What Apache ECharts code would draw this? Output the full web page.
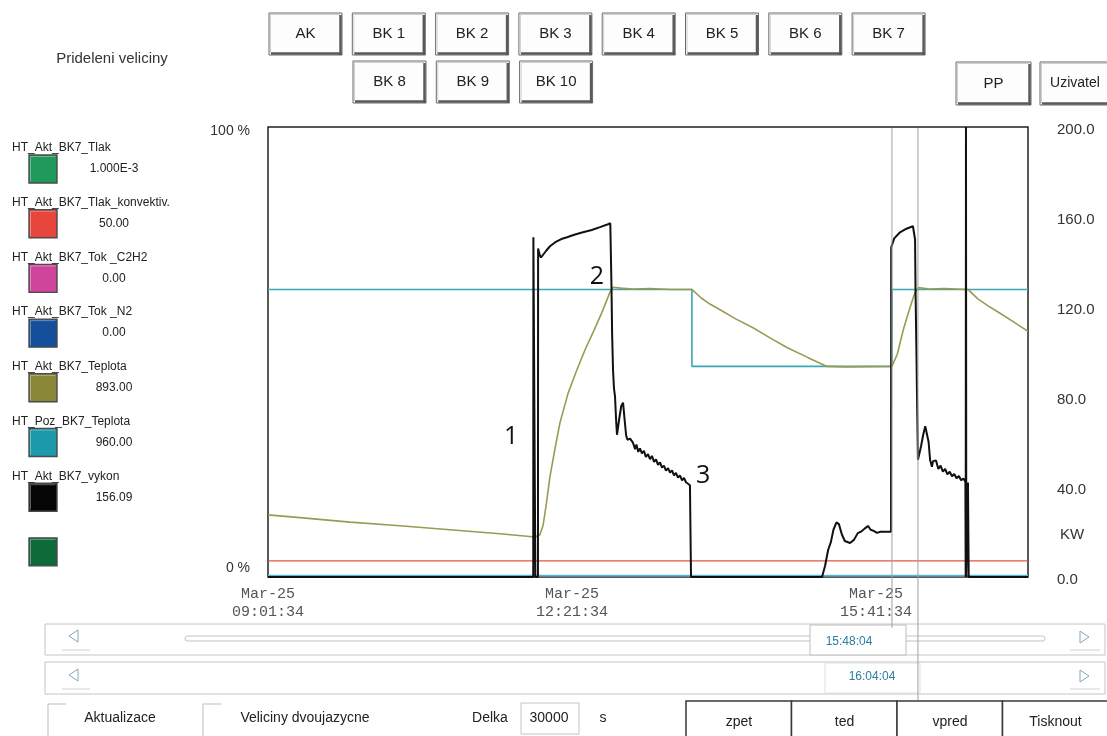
<!DOCTYPE html>
<html>
<head>
<meta charset="utf-8">
<script src="https://cdn.jsdelivr.net/npm/echarts@6/dist/echarts.min.js"></script>
<style>
html,body{margin:0;padding:0;background:#fff}
#chart{width:1107px;height:736px}
</style>
</head>
<body>
<div id="chart"></div>
<script>
// ---- time axis: minutes after 09:01:34, window length 30000 s (500 min) ----
const tickMinutes = [0, 200, 400];
const tickDates = ['Mar-25', 'Mar-25', 'Mar-25'];
const tickTimes = ['09:01:34', '12:21:34', '15:41:34'];
const kwTicks = [0, 40, 80, 120, 160, 200];
const cursorMinutes = [410.5, 427.6];

// ---- recorded values, [minute, value] ----
// HT_Akt_BK7_vykon, kW (right axis)
const vykonKW = [
  [0,0],[174.5,0],[174.6,151],[175.8,151],[175.9,0],[177.6,0],[177.7,146],[178.8,143],[179.6,142],
  [180.9,142.1],[183,145],[185.5,147],[189,148.8],[193,150.2],[196.7,151],[202,152.2],[207.2,153.2],
  [213,154.2],[218.4,155.5],[223.7,156.8],[225.2,157.2],[225.7,156.4],[226.0,128],[226.4,108],
  [227.0,92],[227.6,84],[228.3,80.2],[229.0,70],[229.6,63.2],[231.0,70],[232.4,76],[233.6,77.5],
  [234.6,70],[235.6,63],[236.5,61],[238.2,61.5],[240.1,59.7],[241.5,56.8],[242.4,58.9],[243.6,55.6],
  [244.7,57.2],[246,54.9],[247.3,56.1],[248.6,53.4],[250,54.6],[251.3,52.4],[252.6,53.8],[254,51.2],
  [255.3,52.3],[256.6,49.8],[257.9,50.9],[259.2,48.6],[260.5,49.5],[261.8,47.3],[263.2,48.4],
  [264.5,46.4],[265.8,47.4],[267.1,45.2],[268.4,46.3],[269.7,44.2],[271.1,45.1],[272.4,43.0],
  [273.7,44.0],[275,42.1],[276.3,42.9],[277.6,40.8],[278.2,41.5],[278.3,0],
  [364.5,0],[366.5,5],[368.5,12],[370.3,15.5],[372,21],[374,24.3],[375.6,23.5],[377.5,19],[379.5,16],
  [382.9,15.1],[385.5,16.5],[388,19.5],[390.5,20.3],[392.5,21.5],[394.7,22.7],[396.5,21],[398.5,20.5],
  [400.7,19.6],[403,20.1],[409.9,20.1],[410.0,146.5],[412,150.5],[415.8,153.2],[420,154.8],
  [424.3,155.9],[425.4,156.5],[425.7,150],[426.0,128],[426.6,100],[427.2,70],[427.6,52.1],[429.6,58],
  [431.0,63],[432.4,67],[433.6,66.8],[434.6,60],[435.6,52],[436.8,49],[437.5,51.5],[439.5,51.8],
  [441,48],[442.5,49.5],[444,46.8],[445.5,48],[447,45.6],[448.5,46.8],[450,44.8],[451.5,45.8],
  [453,43.9],[454.5,44.9],[456,43.0],[457.5,43.8],[458.8,42.3],[459.0,0],[459.2,200],[459.4,0],
  [460.4,0],[460.5,42],[460.9,42],[461.0,0],[500,0]
];
// HT_Akt_BK7_Teplota, % of range
const teplotaAkt = [
  [0,13.8],[21,13.2],[54,12.2],[86.8,11.4],[119.7,10.5],[152.6,9.6],[175.7,8.9],[178.9,9.4],
  [181,11.5],[183,16],[185.5,22.3],[188.8,28.5],[192.1,34.3],[197.4,40.8],[203.3,46.1],[208.6,50.5],
  [213.8,54.3],[219.7,58.8],[225,63.3],[227,64.4],[232,64.2],[240,64.0],[251.3,64.1],[265,63.9],
  [278.9,63.9],[285,62.0],[291,60.6],[297.4,59.4],[308,57.3],[319.1,55.4],[330,53.2],[341.4,51.0],
  [355,48.8],[367.8,46.8],[380,46.7],[410.5,46.8],[414,49.5],[418,55],[422,59.5],[425.7,63.3],
  [428,64.3],[435,64.0],[445,64.1],[460.5,63.9],[467,61.8],[474,60.2],[481.6,58.6],[490,56.8],
  [500,54.6]
];
// HT_Poz_BK7_Teplota (setpoint), % of range
const teplotaPoz = [[0,63.9],[278.9,63.9],[278.9,46.8],[410.5,46.8],[410.5,63.9],[500,63.9]];
// HT_Akt_BK7_Tlak_konvektiv., % of range
const tlakKonv = [[0,3.6],[500,3.6]];
// HT_Akt_BK7_Tok _N2, % of range
const tokN2 = [[0,0.3],[500,0.3]];

// numbered notes on the power trace, [minute, kW]
const noteLabels = ['1', '2', '3'];
const notePoints = [[159.9, 62.4], [216.4, 133.2], [286.2, 45]];

// ---- side panel ----
const legendNames = ['HT_Akt_BK7_Tlak','HT_Akt_BK7_Tlak_konvektiv.','HT_Akt_BK7_Tok _C2H2','HT_Akt_BK7_Tok _N2',
  'HT_Akt_BK7_Teplota','HT_Poz_BK7_Teplota','HT_Akt_BK7_vykon',''];
const legendValues = ['1.000E-3','50.00','0.00','0.00','893.00','960.00','156.09',''];
const legendColors = ['#1f9a5a','#e8463c','#d0459c','#144f9c','#8a8838','#1c9aab','#050505','#0f6a3a'];

const buttonsRow1 = ['AK','BK 1','BK 2','BK 3','BK 4','BK 5','BK 6','BK 7'];
const buttonsRow2 = ['BK 8','BK 9','BK 10'];
const navButtons = ['zpet','ted','vpred','Tisknout'];
const sliderTimes = ['15:48:04','16:04:04'];

const FONT = '"Liberation Sans", Arial, sans-serif';
const chart = echarts.init(document.getElementById('chart'), null, {renderer: 'canvas'});

const line = (name, data, color, width, axis, z) => ({
  name, type: 'line', data, yAxisIndex: axis, showSymbol: false, symbol: 'none',
  lineStyle: {color, width}, itemStyle: {color}, z, animation: false
});

const vykonSeries = line('HT_Akt_BK7_vykon', vykonKW, '#111', 2, 1, 6);
vykonSeries.markPoint = {
  symbol: 'rect', symbolSize: [1, 1], itemStyle: {color: 'transparent'},
  label: {show: true, position: 'inside', formatter: p => p.name, fontSize: 25,
    color: '#111', fontFamily: '"Open Sans", "Noto Sans", sans-serif'},
  data: noteLabels.map((n, i) => ({name: n, coord: notePoints[i]}))
};

chart.setOption({
  backgroundColor: '#fff',
  animation: false,
  grid: {left: 268, top: 127, width: 760, height: 450, show: true,
    borderColor: '#222', borderWidth: 1.5, backgroundColor: '#fff'},
  xAxis: {
    type: 'value', min: 0, max: 500, interval: 200,
    axisLine: {show: false}, axisTick: {show: false}, splitLine: {show: false},
    axisLabel: {
      margin: 8, color: '#555', fontSize: 15, lineHeight: 18,
      fontFamily: '"Liberation Mono", "DejaVu Sans Mono", monospace',
      formatter: v => {
        const i = tickMinutes.indexOf(v);
        return i >= 0 ? tickDates[i] + '\n' + tickTimes[i] : '';
      }
    }
  },
  yAxis: [
    {
      type: 'value', min: 0, max: 100, interval: 100, position: 'left',
      axisLine: {show: false}, axisTick: {show: false}, splitLine: {show: false},
      axisLabel: {
        margin: 18,
        formatter: v => v === 100 ? '{t|100 %}' : (v === 0 ? '{b|0 %}' : ''),
        rich: {
          t: {fontSize: 14, color: '#333', fontFamily: FONT, padding: [8, 0, 0, 0]},
          b: {fontSize: 14, color: '#333', fontFamily: FONT, padding: [0, 0, 18, 0]}
        }
      }
    },
    {
      type: 'value', min: 0, max: 200, interval: 40, position: 'right',
      axisLine: {show: false}, axisTick: {show: false}, splitLine: {show: false},
      axisLabel: {
        margin: 29,
        formatter: v => kwTicks.indexOf(v) >= 0 ? '{k|' + v.toFixed(1) + '}' : '',
        rich: {k: {fontSize: 15, color: '#333', fontFamily: FONT, padding: [6, 0, 0, 0]}}
      }
    }
  ],
  series: [
    line('HT_Akt_BK7_Tlak_konvektiv.', tlakKonv, '#e0544a', 1.2, 0, 2),
    line('HT_Akt_BK7_Tok _N2', tokN2, '#5bb3e0', 1.6, 0, 2),
    line('HT_Poz_BK7_Teplota', teplotaPoz, '#3aa7b4', 1.6, 0, 3),
    line('HT_Akt_BK7_Teplota', teplotaAkt, '#9b9a52', 1.6, 0, 4),
    vykonSeries
  ]
});

// ---- surrounding panel drawn as graphic elements ----
const g = [];
const txt = (text, x, y, size, color, align, font) => g.push({
  type: 'text', silent: true, z: 20,
  style: {text, x, y, fill: color || '#222', font: (size || 14) + 'px ' + (font || FONT),
    align: align || 'center', verticalAlign: 'middle',
    textAlign: align || 'center', textVerticalAlign: 'middle'}
});
const rect = (x, y, w, h, fill, stroke, lw) => g.push({
  type: 'rect', silent: true, z: 10, shape: {x, y, width: w, height: h},
  style: {fill: fill || 'none', stroke: stroke || 'none', lineWidth: lw || 1}
});
const seg = (x1, y1, x2, y2, stroke, lw, z) => g.push({
  type: 'line', silent: true, z: z || 11, shape: {x1, y1, x2, y2},
  style: {stroke, lineWidth: lw || 1}
});
const bevelButton = (label, x, y, w, h, size) => {
  rect(x, y, w, h, '#fdfdfd', '#6a6a6a', 1);
  seg(x + 1.5, y + 1.5, x + w - 2, y + 1.5, '#cfcfcf', 1);
  seg(x + 1.5, y + 1.5, x + 1.5, y + h - 2, '#cfcfcf', 1);
  seg(x + 2, y + h - 1.5, x + w, y + h - 1.5, '#5a5a5a', 2.5);
  seg(x + w - 1.5, y + 2, x + w - 1.5, y + h, '#5a5a5a', 2.5);
  txt(label, x + w / 2, y + h / 2, size || 15, '#222');
};

txt('Prideleni veliciny', 112, 59, 15, '#333');
buttonsRow1.forEach((b, i) => bevelButton(b, 269 + i * 83.3, 13, 73, 42));
buttonsRow2.forEach((b, i) => bevelButton(b, 353 + i * 83.3, 61, 73, 42));
bevelButton('PP', 956, 62, 75, 43);
bevelButton('Uzivatel', 1040, 62, 70, 43, 14);

// legend column
legendNames.forEach((n, i) => {
  const y0 = i * 54.7;
  if (n) txt(n, 12, 148 + y0, 12, '#222', 'left');
  rect(29, 155 + y0, 28, 28, legendColors[i], '#4a4a4a', 1.4);
  seg(30.5, 156.5 + y0, 55.5, 156.5 + y0, 'rgba(255,255,255,0.35)', 1);
  seg(30.5, 156.5 + y0, 30.5, 181.5 + y0, 'rgba(255,255,255,0.35)', 1);
  if (legendValues[i]) txt(legendValues[i], 114, 169 + y0, 12, '#222');
});

txt('KW', 1072, 535, 15, '#333');

// cursor lines placed on the time scale
const cx = cursorMinutes.map(t => chart.convertToPixel({xAxisIndex: 0}, t));
seg(cx[0], 128, cx[0], 628, '#a0a0a0', 1, 30);
seg(cx[1], 128, cx[1], 700, '#a0a0a0', 1, 30);

// time sliders
rect(45, 624, 1060, 31, 'none', '#c4c4c4', 1);
rect(45, 662, 1060, 32, 'none', '#c4c4c4', 1);
[[636], [675]].forEach(([yc]) => {
  g.push({type: 'polyline', silent: true, z: 12,
    shape: {points: [[78, yc - 6], [69, yc], [78, yc + 6], [78, yc - 6]]},
    style: {stroke: '#8aa4b4', lineWidth: 1, fill: 'none'}});
  g.push({type: 'polyline', silent: true, z: 12,
    shape: {points: [[1080, yc - 5], [1089, yc + 1], [1080, yc + 7], [1080, yc - 5]]},
    style: {stroke: '#8aa4b4', lineWidth: 1, fill: 'none'}});
  seg(62, yc + 14, 90, yc + 14, '#d0d0d0', 1);
  seg(1070, yc + 14, 1100, yc + 14, '#d0d0d0', 1);
});
g.push({type: 'rect', silent: true, z: 10, shape: {x: 185, y: 636, width: 860, height: 5, r: 2.5},
  style: {fill: 'none', stroke: '#c2c2c2', lineWidth: 1}});
rect(810, 625, 96, 30, '#fff', '#bdbdbd', 1);
txt(sliderTimes[0], 849, 642, 12, '#2a7f9e');
rect(825, 663, 95, 30, 'none', '#dedede', 1);
txt(sliderTimes[1], 872, 677, 12, '#2a7f9e');

// options row
seg(48, 704, 66, 704, '#bdbdbd', 1);
seg(48, 704, 48, 736, '#bdbdbd', 1);
txt('Aktualizace', 120, 718, 14, '#222');
seg(203, 704, 221, 704, '#bdbdbd', 1);
seg(203, 704, 203, 736, '#bdbdbd', 1);
txt('Veliciny dvoujazycne', 305, 718, 14, '#222');
txt('Delka', 490, 718, 14, '#222');
rect(521, 703, 58, 31, 'none', '#c4c4c4', 1);
txt('30000', 549, 718, 14, '#222');
txt('s', 603, 718, 14, '#222');

// navigation buttons
navButtons.forEach((b, i) => {
  const x = 686 + i * 105.5;
  rect(x, 701, 105.5, 40, '#fff', '#3a3a3a', 1.5);
  txt(b, x + 53, 722, 14, '#222');
});

chart.setOption({graphic: g});
</script>
</body>
</html>
